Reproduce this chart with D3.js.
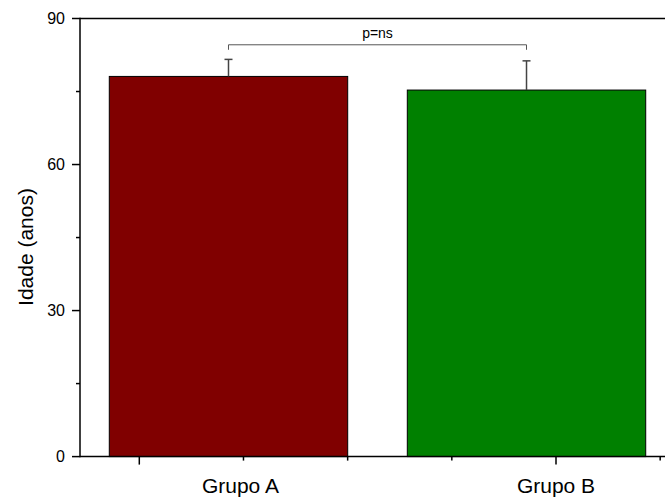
<!DOCTYPE html>
<html>
<head>
<meta charset="utf-8">
<script src="https://cdn.jsdelivr.net/npm/d3@7"></script>
<style>
  html, body { margin: 0; padding: 0; background: #fff; }
  svg { display: block; font-family: "Liberation Sans", Arial, sans-serif; }
</style>
</head>
<body>
<svg id="chart" width="665" height="500"></svg>
<script>
// Mean age per group with standard deviation
const groups = ["Grupo A", "Grupo B"];
const means = [78.1, 75.3];
const errors = [3.5, 6.0];
const colors = ["#800000", "#008000"];
const yTicks = [0, 30, 60, 90];
const yMinorTicks = [15, 45, 75];
const significance = "p=ns";

const plotLeft = 80, plotRight = 665, plotTop = 18.5, plotBottom = 456.6;

const svg = d3.select("#chart");

const y = d3.scaleLinear().domain([0, 90]).range([plotBottom, plotTop]);

const x = d3.scaleBand()
  .domain(groups)
  .range([plotLeft, plotRight])
  .paddingInner(0.2)
  .paddingOuter(0.0815)
  .align(0.603);

// Tick grid along the category axis (major at 0 and 4, minor otherwise)
const xt = d3.scaleLinear().domain([0, 4]).range([139.3, 556]);
const xTickVals = [0, 1, 2, 3, 4, 5];
const xMajor = [0, 4];

// Bars
svg.append("g").selectAll("rect")
  .data(groups)
  .join("rect")
  .attr("x", d => x(d))
  .attr("y", (d, i) => y(means[i]))
  .attr("width", x.bandwidth())
  .attr("height", (d, i) => y(0) - y(means[i]))
  .attr("fill", (d, i) => colors[i])
  .attr("stroke", "#000")
  .attr("stroke-width", 1);

// Upper error bars
const eb = svg.append("g").attr("stroke", "#444").attr("stroke-width", 1.5).attr("fill", "none");
groups.forEach((g, i) => {
  const cx = x(g) + x.bandwidth() / 2;
  eb.append("line").attr("x1", cx).attr("x2", cx)
    .attr("y1", y(means[i])).attr("y2", y(means[i] + errors[i]));
  eb.append("line").attr("x1", cx - 4).attr("x2", cx + 4)
    .attr("y1", y(means[i] + errors[i])).attr("y2", y(means[i] + errors[i]));
});

// Significance bracket
const bx1 = x(groups[0]) + x.bandwidth() / 2;
const bx2 = x(groups[1]) + x.bandwidth() / 2;
const by = y(84.6);
svg.append("path")
  .attr("d", `M${bx1},${by + 5}V${by}H${bx2}V${by + 5}`)
  .attr("fill", "none")
  .attr("stroke", "#555")
  .attr("stroke-width", 1);
svg.append("text")
  .attr("x", (bx1 + bx2) / 2)
  .attr("y", by - 7)
  .attr("text-anchor", "middle")
  .attr("font-size", 14)
  .attr("fill", "#000")
  .text(significance);

// Frame lines
const axisG = svg.append("g").attr("stroke", "#000").attr("stroke-width", 1.5);
axisG.append("line").attr("x1", plotLeft).attr("x2", plotRight).attr("y1", plotTop).attr("y2", plotTop);
axisG.append("line").attr("x1", plotLeft).attr("x2", plotRight).attr("y1", plotBottom).attr("y2", plotBottom);
axisG.append("line").attr("x1", plotLeft).attr("x2", plotLeft).attr("y1", plotTop - 0.75).attr("y2", plotBottom + 0.75);

// Y axis ticks and labels
yTicks.forEach(v => {
  axisG.append("line").attr("x1", plotLeft - 8).attr("x2", plotLeft).attr("y1", y(v)).attr("y2", y(v));
});
yMinorTicks.forEach(v => {
  axisG.append("line").attr("x1", plotLeft - 4).attr("x2", plotLeft).attr("y1", y(v)).attr("y2", y(v));
});
svg.append("g").selectAll("text")
  .data(yTicks)
  .join("text")
  .attr("x", plotLeft - 15)
  .attr("y", d => y(d))
  .attr("dy", "0.36em")
  .attr("text-anchor", "end")
  .attr("font-size", 16)
  .attr("fill", "#000")
  .text(d => d);

// X axis ticks
xTickVals.forEach(v => {
  const len = xMajor.includes(v) ? 8 : 4;
  axisG.append("line").attr("x1", xt(v)).attr("x2", xt(v))
    .attr("y1", plotBottom).attr("y2", plotBottom + len);
});

// Category labels
const labelPos = [xt(1) - 3, xt(4)];
svg.append("g").selectAll("text")
  .data(groups)
  .join("text")
  .attr("x", (d, i) => labelPos[i])
  .attr("y", 493)
  .attr("text-anchor", "middle")
  .attr("font-size", 21)
  .attr("fill", "#000")
  .text(d => d);

// Y axis title
svg.append("text")
  .attr("transform", "translate(33,247) rotate(-90)")
  .attr("text-anchor", "middle")
  .attr("font-size", 21)
  .attr("fill", "#000")
  .text("Idade (anos)");
</script>
</body>
</html>
